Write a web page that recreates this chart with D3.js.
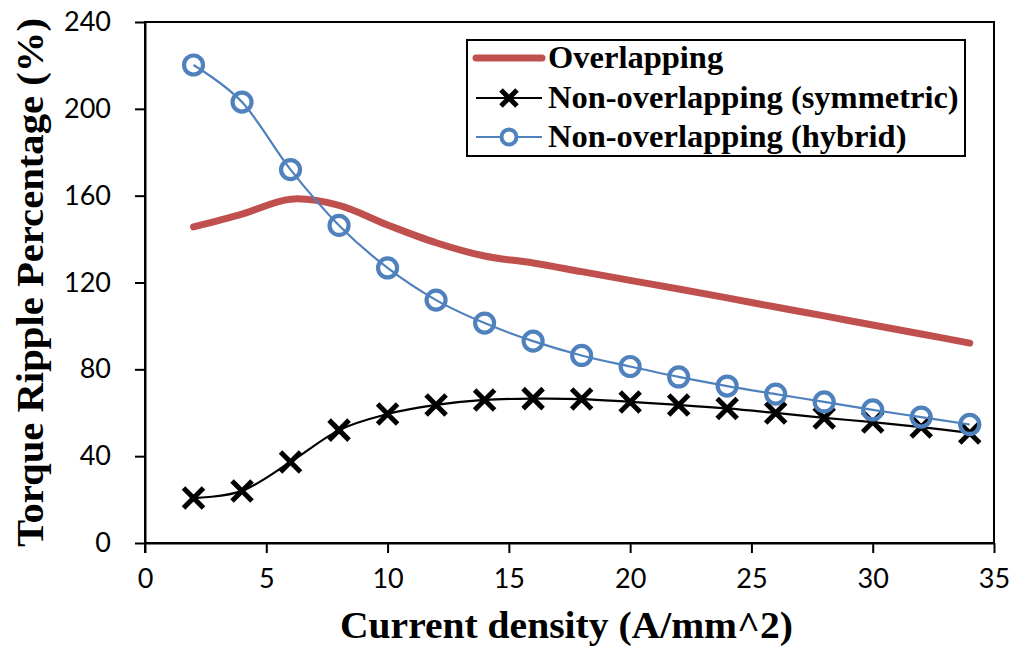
<!DOCTYPE html>
<html>
<head>
<meta charset="utf-8">
<script src="https://cdn.jsdelivr.net/npm/d3@7"></script>
<style>
  html, body { margin: 0; padding: 0; background: #fff; }
  svg { display: block; }
</style>
</head>
<body>
<svg id="chart" width="1020" height="650"></svg>
<script>
// Current density (A/mm^2)
const currentDensity = [2, 4, 6, 8, 10, 12, 14, 16, 18, 20, 22, 24, 26, 28, 30, 32, 34];

// Torque ripple percentage (%) for each winding layout
const overlapping = [145.6, 151.5, 158.4, 155.5, 146.5, 138.3, 132.2, 129, 125, 121, 117, 112.9, 108.7, 104.6, 100.4, 96.3, 92.1];
const symmetric   = [20.7, 24, 37.3, 52, 59.4, 63.6, 65.9, 66.5, 66.3, 65, 63.6, 62, 59.9, 57.6, 55.7, 53.4, 50.7];
const hybrid      = [220.2, 203.1, 172, 146.3, 126.7, 111.9, 101.3, 93, 86.4, 81.3, 76.5, 72.3, 68.6, 65, 61.3, 58, 54.6];

const xTicks = [0, 5, 10, 15, 20, 25, 30, 35];
const yTicks = [0, 40, 80, 120, 160, 200, 240];

const seriesNames = ["Overlapping", "Non-overlapping (symmetric)", "Non-overlapping (hybrid)"];

(function draw() {
  const svg = d3.select("#chart");
  const mLeft = 145, mRight = 994, mTop = 22, mBottom = 543;

  const x = d3.scaleLinear().domain([0, 35]).range([mLeft, mRight]);
  const y = d3.scaleLinear().domain([0, 240]).range([mBottom, mTop]);

  const tickFont = "Lato, 'Open Sans', sans-serif";
  const titleFont = "'Liberation Serif', 'Times New Roman', serif";

  // Plot frame
  svg.append("rect")
    .attr("x", mLeft).attr("y", mTop)
    .attr("width", mRight - mLeft).attr("height", mBottom - mTop)
    .attr("fill", "none").attr("stroke", "#000").attr("stroke-width", 2);

  // Axes
  const xAxis = svg.append("g")
    .attr("transform", `translate(0,${mBottom})`)
    .call(d3.axisBottom(x).tickValues(xTicks).tickSize(10).tickPadding(16).tickSizeOuter(0));
  const yAxis = svg.append("g")
    .attr("transform", `translate(${mLeft},0)`)
    .call(d3.axisLeft(y).tickValues(yTicks).tickSize(10).tickPadding(24).tickSizeOuter(0));

  [xAxis, yAxis].forEach(g => {
    g.select(".domain").attr("stroke", "#000").attr("stroke-width", 2);
    g.selectAll(".tick line").attr("stroke", "#000").attr("stroke-width", 2);
    g.selectAll(".tick text")
      .attr("fill", "#000")
      .style("font-family", tickFont)
      .style("font-size", "27px");
  });
  // y-axis line continues down through the x tick row
  svg.append("line")
    .attr("x1", mLeft).attr("x2", mLeft)
    .attr("y1", mBottom).attr("y2", mBottom + 10)
    .attr("stroke", "#000").attr("stroke-width", 2);

  // Axis titles
  svg.append("text")
    .attr("x", (mLeft + mRight) / 2 - 3).attr("y", 638)
    .attr("text-anchor", "middle")
    .attr("textLength", 453).attr("lengthAdjust", "spacingAndGlyphs")
    .style("font-family", titleFont).style("font-weight", "bold").style("font-size", "37px")
    .text("Current density (A/mm^2)");

  svg.append("text")
    .attr("transform", `translate(43,${(mTop + mBottom) / 2}) rotate(-90)`)
    .attr("text-anchor", "middle")
    .attr("textLength", 529).attr("lengthAdjust", "spacingAndGlyphs")
    .style("font-family", titleFont).style("font-weight", "bold").style("font-size", "38px")
    .text("Torque Ripple Percentage (%)");

  // Series
  const smooth = d3.curveCatmullRom.alpha(0);
  const lineGen = d3.line().x(d => x(d[0])).y(d => y(d[1])).curve(smooth);

  const pts = vals => currentDensity.map((c, i) => [c, vals[i]]);

  const red = "#C0504D", blue = "#4F81BD";

  svg.append("path").datum(pts(overlapping))
    .attr("d", lineGen).attr("fill", "none")
    .attr("stroke", red).attr("stroke-width", 7).attr("stroke-linecap", "round");

  svg.append("path").datum(pts(symmetric))
    .attr("d", lineGen).attr("fill", "none")
    .attr("stroke", "#000").attr("stroke-width", 2.2);

  const crossPath = s => `M${-s},${-s}L${s},${s}M${-s},${s}L${s},${-s}`;

  svg.append("g").selectAll("path").data(pts(symmetric)).join("path")
    .attr("transform", d => `translate(${x(d[0])},${y(d[1])})`)
    .attr("d", crossPath(10))
    .attr("stroke", "#000").attr("stroke-width", 5).attr("fill", "none");

  svg.append("path").datum(pts(hybrid))
    .attr("d", lineGen).attr("fill", "none")
    .attr("stroke", blue).attr("stroke-width", 2.2);

  svg.append("g").selectAll("circle").data(pts(hybrid)).join("circle")
    .attr("cx", d => x(d[0])).attr("cy", d => y(d[1]))
    .attr("r", 9.5)
    .attr("fill", "none").attr("stroke", blue).attr("stroke-width", 4.2);

  // Legend
  const legend = svg.append("g");
  legend.append("rect")
    .attr("x", 467).attr("y", 40).attr("width", 498).attr("height", 116)
    .attr("fill", "#fff").attr("stroke", "#000").attr("stroke-width", 2);

  const rowY = [58, 98, 137];
  const styles = [
    { color: red, width: 7, marker: null },
    { color: "#000", width: 2.2, marker: "cross" },
    { color: blue, width: 2.2, marker: "circle" }
  ];

  seriesNames.forEach((name, i) => {
    const yy = rowY[i], st = styles[i];
    legend.append("line")
      .attr("x1", 476).attr("x2", 542).attr("y1", yy).attr("y2", yy)
      .attr("stroke", st.color).attr("stroke-width", st.width)
      .attr("stroke-linecap", st.marker ? "butt" : "round");
    if (st.marker === "cross") {
      legend.append("path")
        .attr("transform", `translate(509,${yy})`)
        .attr("d", crossPath(8))
        .attr("stroke", "#000").attr("stroke-width", 5).attr("fill", "none");
    } else if (st.marker === "circle") {
      legend.append("circle")
        .attr("cx", 509).attr("cy", yy).attr("r", 7.5)
        .attr("fill", "#fff").attr("stroke", blue).attr("stroke-width", 4);
    }
    legend.append("text")
      .attr("x", 548).attr("y", yy + 10)
      .style("font-family", titleFont).style("font-weight", "bold").style("font-size", "32.5px")
      .text(name);
  });
})();
</script>
</body>
</html>
